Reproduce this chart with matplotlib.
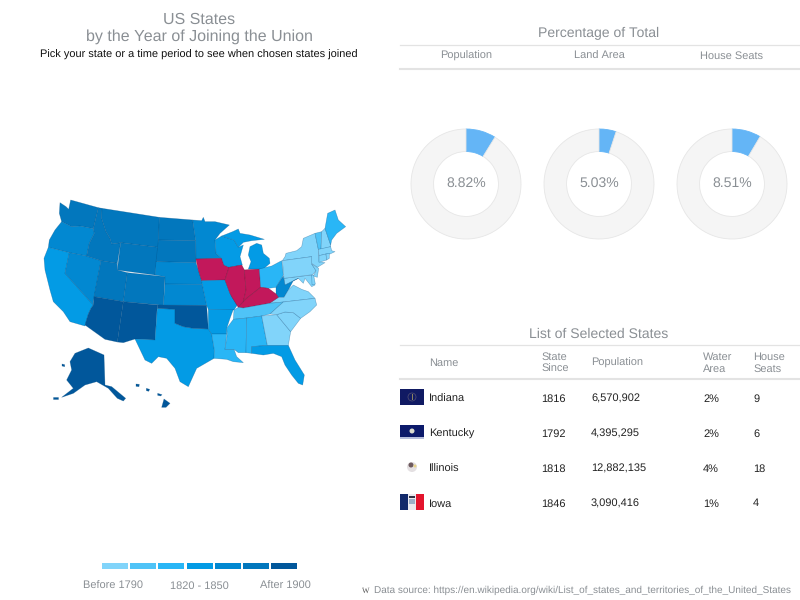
import numpy as np
import matplotlib

matplotlib.use("Agg")
import matplotlib.pyplot as plt
from matplotlib.colors import to_rgba
from matplotlib.patches import Circle, Polygon, Rectangle

plt.rcParams["font.family"] = ["Liberation Sans", "DejaVu Sans"]
plt.rcParams["text.hinting"] = "no_hinting"
plt.rcParams["text.hinting_factor"] = 1

# legend buckets
YEAR_BREAKS = [1790, 1800, 1820, 1850, 1870, 1900]
BUCKET_COLORS = ["#81d4fa", "#4fc3f7", "#29b6f6", "#039be5", "#0288d1", "#0277bd", "#01579b"]
LEGEND_LABELS = ["Before 1790", "1820 - 1850", "After 1900"]
SELECTED = ["IN", "KY", "IL", "IA"]

JOINED = {
    "DE": 1787, "PA": 1787, "NJ": 1787, "GA": 1788, "CT": 1788, "MA": 1788, "MD": 1788, "SC": 1788,
    "NH": 1788, "VA": 1788, "NY": 1788, "NC": 1789, "RI": 1790, "VT": 1791, "KY": 1792, "TN": 1796,
    "OH": 1803, "LA": 1812, "IN": 1816, "MS": 1817, "IL": 1818, "AL": 1819, "ME": 1820, "MO": 1821,
    "AR": 1836, "MI": 1837, "FL": 1845, "TX": 1845, "IA": 1846, "WI": 1848, "CA": 1850, "MN": 1858,
    "OR": 1859, "KS": 1861, "WV": 1863, "NV": 1864, "NE": 1867, "CO": 1876, "ND": 1889, "SD": 1889,
    "MT": 1889, "WA": 1889, "ID": 1890, "WY": 1890, "UT": 1896, "OK": 1907, "NM": 1912, "AZ": 1912,
    "AK": 1959, "HI": 1959,
}

# rough state outlines (map units, y down)
OUTLINES = {
    "WA": [[(90, 38), (108, 50), (116, 58), (122, 30), (205, 53), (190, 116), (150, 108), (125, 110), (105, 100), (95, 95), (88, 70)]],
    "OR": [[(95, 95), (105, 100), (125, 110), (150, 108), (190, 116), (193, 130), (178, 160), (170, 198), (118, 188), (55, 172), (58, 150), (75, 120)]],
    "CA": [[(55, 172), (118, 188), (105, 250), (190, 345), (183, 355), (175, 372), (165, 408), (120, 395), (100, 365), (70, 335), (60, 300), (45, 240), (42, 205)]],
    "NV": [[(118, 188), (170, 198), (213, 212), (190, 335), (190, 345), (105, 250)]],
    "ID": [[(205, 53), (216, 55), (215, 85), (228, 125), (240, 145), (245, 162), (272, 158), (262, 220), (213, 212), (170, 198), (178, 160), (193, 130), (190, 116)]],
    "MT": [[(216, 55), (388, 82), (385, 172), (272, 158), (245, 162), (240, 145), (228, 125), (215, 85)]],
    "WY": [[(272, 158), (385, 172), (375, 255), (262, 240)]],
    "UT": [[(213, 212), (262, 220), (262, 240), (292, 248), (280, 335), (192, 320)]],
    "CO": [[(292, 248), (405, 260), (400, 346), (280, 335)]],
    "AZ": [[(192, 320), (280, 335), (262, 456), (225, 448), (165, 405), (175, 372), (183, 355), (190, 345)]],
    "NM": [[(280, 335), (382, 345), (375, 450), (315, 447), (280, 458), (262, 456)]],
    "ND": [[(388, 82), (488, 90), (497, 152), (385, 150)]],
    "SD": [[(385, 150), (497, 152), (498, 218), (378, 215)]],
    "NE": [[(378, 215), (498, 218), (505, 240), (515, 272), (517, 283), (405, 282), (405, 260), (375, 255)]],
    "KS": [[(405, 282), (517, 283), (530, 346), (400, 346)]],
    "TX": [[(382, 355), (435, 358), (435, 400), (460, 410), (490, 415), (535, 417), (545, 432), (553, 480), (552, 505), (500, 535), (475, 590), (450, 575), (435, 535), (410, 505), (385, 500), (365, 520), (345, 510), (315, 447), (375, 450)]],
    "OK": [[(382, 345), (530, 346), (535, 417), (490, 415), (460, 410), (435, 400), (435, 358), (382, 355)]],
    "MN": [[(488, 90), (515, 92), (520, 82), (525, 95), (555, 95), (598, 105), (570, 130), (555, 150), (558, 190), (575, 205), (498, 207), (497, 152)]],
    "IA": [[(498, 207), (575, 205), (582, 225), (597, 232), (585, 270), (515, 272), (505, 240)]],
    "MO": [[(515, 272), (585, 270), (600, 310), (622, 345), (612, 360), (535, 358), (530, 346), (517, 283)]],
    "AR": [[(535, 358), (610, 358), (600, 385), (590, 415), (590, 432), (545, 432), (535, 417)]],
    "LA": [[(545, 432), (590, 432), (585, 478), (612, 478), (620, 500), (640, 518), (610, 515), (590, 508), (552, 505), (553, 480)]],
    "WI": [[(555, 150), (575, 138), (612, 150), (625, 172), (640, 165), (630, 200), (637, 225), (597, 232), (582, 225), (575, 205), (558, 190)]],
    "IL": [[(597, 232), (635, 225), (643, 240), (648, 300), (640, 335), (625, 352), (605, 320), (600, 310), (585, 270)]],
    "IN": [[(643, 240), (688, 237), (692, 292), (650, 325), (640, 335), (648, 300)]],
    "MI": [[(655, 195), (660, 170), (680, 160), (695, 165), (700, 190), (718, 205), (720, 220), (700, 237), (655, 237), (663, 215)],
           [(575, 138), (608, 125), (625, 117), (630, 130), (660, 135), (703, 148), (665, 152), (640, 157), (625, 172), (612, 150)]],
    "OH": [[(688, 237), (725, 228), (755, 212), (760, 255), (738, 292), (715, 295), (692, 292)]],
    "MD": [[(762, 265), (845, 255), (855, 285), (845, 290), (825, 265), (820, 280), (805, 265), (785, 275), (765, 285)]],
    "WV": [[(738, 292), (755, 265), (760, 258), (765, 285), (785, 275), (805, 265), (790, 272), (775, 300), (762, 322), (745, 322), (738, 312)]],
    "VA": [[(718, 340), (745, 322), (762, 322), (775, 300), (790, 285), (815, 298), (835, 305), (855, 325), (760, 336)]],
    "KY": [[(625, 352), (640, 335), (650, 325), (692, 292), (715, 295), (738, 312), (745, 322), (718, 340), (640, 354)]],
    "TN": [[(610, 388), (612, 360), (625, 352), (640, 354), (718, 340), (760, 336), (720, 372), (695, 378), (650, 384)]],
    "MS": [[(610, 388), (650, 384), (648, 488), (625, 488), (612, 478), (585, 478), (592, 432), (590, 415)]],
    "AL": [[(650, 384), (695, 378), (712, 466), (665, 470), (665, 490), (648, 488)]],
    "GA": [[(695, 378), (740, 374), (782, 425), (775, 466), (712, 466)]],
    "FL": [[(665, 470), (712, 466), (775, 466), (795, 510), (823, 555), (818, 585), (805, 580), (785, 555), (765, 525), (755, 500), (730, 490), (700, 495), (665, 490)]],
    "SC": [[(740, 374), (765, 366), (790, 368), (812, 385), (782, 425)]],
    "NC": [[(720, 372), (760, 336), (855, 325), (860, 345), (840, 365), (812, 385), (790, 368), (765, 366), (740, 374)]],
    "NY": [[(765, 200), (768, 190), (800, 182), (815, 170), (820, 145), (855, 130), (865, 178), (867, 215), (885, 218), (862, 232), (845, 220), (845, 200), (757, 212)]],
    "PA": [[(757, 212), (845, 200), (845, 222), (858, 242), (848, 254), (762, 265)]],
    "NJ": [[(845, 222), (866, 235), (862, 262), (850, 258), (858, 242)]],
    "DE": [[(845, 255), (851, 256), (856, 282), (846, 284)]],
    "VT": [[(855, 130), (875, 125), (873, 178), (865, 178)]],
    "NH": [[(875, 125), (885, 115), (902, 165), (902, 170), (873, 178)]],
    "ME": [[(885, 115), (893, 70), (915, 60), (925, 90), (947, 110), (920, 130), (905, 150), (902, 165)]],
    "MA": [[(865, 178), (902, 170), (905, 182), (915, 185), (900, 192), (888, 192), (867, 197)]],
    "CT": [[(867, 197), (888, 192), (890, 210), (867, 217)]],
    "RI": [[(888, 192), (898, 190), (898, 205), (890, 210)]],
    "AK": [[(135, 490), (175, 474), (222, 495), (225, 585), (245, 590), (287, 625), (280, 633), (262, 625), (235, 595), (200, 575), (165, 585), (130, 610), (95, 622), (130, 595), (110, 570), (125, 540), (120, 515)],
           [(70, 622), (85, 622), (85, 627), (70, 627)], [(96, 522), (104, 524), (104, 530), (96, 528)]],
    "HI": [[(402, 627), (420, 640), (408, 652), (395, 652)], [(383, 610), (396, 614), (392, 618), (383, 616)],
           [(349, 595), (359, 598), (356, 604), (349, 602)], [(318, 582), (328, 583), (327, 590), (318, 589)]],
}

# donuts
DONUT_LABELS = ["Population", "Land Area", "House Seats"]
DONUT_SHARE = [8.82, 5.03, 8.51]

# table
TABLE_NAMES = ["Indiana", "Kentucky", "Illinois", "Iowa"]
TABLE_SINCE = [1816, 1792, 1818, 1846]
TABLE_POP = ["6,570,902", "4,395,295", "12,882,135", "3,090,416"]
TABLE_WATER = ["2%", "2%", "4%", "1%"]
TABLE_SEATS = [9, 6, 18, 4]

GRAY = "#8a8f94"
LINE = "#e3e3e3"


def px_axes(fig, x0, y0, w, h):
    # axes placed by reference pixels, y measured from the top
    return fig.add_axes([x0 / 800, 1 - (y0 + h) / 600, w / 800, h / 600])


def draw_flag(ax, name, x, y):
    if name == "Indiana":
        ax.add_patch(Rectangle((x, y), 24, 16, color="#101a63", lw=0))
        ax.add_patch(Circle((x + 12, y + 8), 4, fc="none", ec="#4a4a70", lw=0.6))
        ax.add_patch(Rectangle((x + 11.5, y + 5), 1, 6, color="#8c8460", lw=0))
    elif name == "Kentucky":
        ax.add_patch(Rectangle((x, y + 1), 24, 13, color="#0c1a6b", lw=0))
        ax.add_patch(Rectangle((x, y + 13), 24, 1.5, color="#b6bedd", lw=0))
        ax.add_patch(Circle((x + 12, y + 7), 2.5, color="#dcdcd0", lw=0))
    elif name == "Illinois":
        ax.add_patch(Circle((x + 12, y + 8), 5, color="#e4e0e2", lw=0))
        ax.add_patch(Circle((x + 11, y + 6), 2.5, color="#6d5a5e", lw=0))
        ax.add_patch(Circle((x + 15, y + 7), 1.5, color="#e8d48a", lw=0))
    else:
        ax.add_patch(Rectangle((x, y), 8, 16, color="#12296b", lw=0))
        ax.add_patch(Rectangle((x + 8, y), 8, 16, color="#eceaf0", lw=0))
        ax.add_patch(Rectangle((x + 16, y), 8, 16, color="#e3142d", lw=0))
        ax.add_patch(Rectangle((x + 9, y + 2), 6, 2, color="#333344", lw=0))
        ax.add_patch(Rectangle((x + 9, y + 5), 6, 5, color="#9db0c8", lw=0))


def main():
    fig = plt.figure(figsize=(8, 6), dpi=100)
    bg = fig.add_axes([0, 0, 1, 1])
    bg.set_xlim(0, 800)
    bg.set_ylim(600, 0)
    bg.axis("off")

    bg.text(199, 24, "US States", ha="center", va="baseline", fontsize=11.5, color=GRAY)
    bg.text(199, 41, "by the Year of Joining the Union", ha="center", va="baseline", fontsize=11.5, color=GRAY)
    bg.text(199, 58, "Pick your state or a time period to see when chosen states joined",
            ha="center", va="baseline", fontsize=7.85, color="#111111")

    # map
    ax_map = px_axes(fig, 30, 190, 330, 230)
    ax_map.set_xlim(0, 990)
    ax_map.set_ylim(690, 0)
    ax_map.axis("off")
    for state, parts in OUTLINES.items():
        if state in SELECTED:
            fc, ec = "#c2185b", to_rgba("#7a0f3a", 0.7)
        else:
            fc = BUCKET_COLORS[np.digitize(JOINED[state], YEAR_BREAKS, right=True)]
            ec = to_rgba("#01497f", 0.4)
        for part in parts:
            ax_map.add_patch(Polygon(part, closed=True, facecolor=fc, edgecolor=ec, lw=0.4, joinstyle="round"))

    # legend
    for i, c in enumerate(BUCKET_COLORS):
        bg.add_patch(Rectangle((102 + i * 28.2, 563), 26, 5.5, color=c, lw=0))
    for x, t in zip([113, 199, 285], LEGEND_LABELS):
        bg.text(x, 589, t, ha="center", va="baseline", fontsize=8, color=GRAY)

    # right top block
    bg.text(599, 37.5, "Percentage of Total", ha="center", va="baseline", fontsize=10, color=GRAY)
    bg.plot([400, 799], [44.5, 44.5], color=LINE, lw=0.9)
    bg.plot([400, 799], [69, 69], color=LINE, lw=1.5)
    for cx, label, share in zip([466, 599, 732], DONUT_LABELS, DONUT_SHARE):
        bg.text(cx, 59, label, ha="center", va="baseline", fontsize=8, color=GRAY)
        ax = px_axes(fig, cx - 58, 184 - 58, 116, 116)
        ax.pie([share, 100 - share], startangle=90, counterclock=False, radius=1,
               colors=["#64b5f6", "#f5f5f5"],
               wedgeprops={"width": 0.41, "edgecolor": "#e6e6e6", "linewidth": 0.6})
        ax.patches[0].set_edgecolor("#64b5f6")
        ax.set_xlim(-58 / 55, 58 / 55)
        ax.set_ylim(-58 / 55, 58 / 55)
        ax.text(0, -0.06, f"{share:.2f}%", ha="center", va="baseline", fontsize=10.3, color=GRAY)

    # table
    bg.text(599, 337.5, "List of Selected States", ha="center", va="baseline", fontsize=10, color=GRAY)
    bg.plot([400, 799], [344.5, 344.5], color=LINE, lw=0.9)
    bg.plot([400, 799], [379, 379], color=LINE, lw=1.5)
    bg.text(429, 366, "Name", va="baseline", fontsize=8, color=GRAY)
    bg.text(541, 372, "State\nSince", va="baseline", fontsize=8, color=GRAY, linespacing=1.25)
    bg.text(591, 366, "Population", va="baseline", fontsize=8, color=GRAY)
    bg.text(703, 372, "Water\nArea", va="baseline", fontsize=8, color=GRAY, linespacing=1.25)
    bg.text(753, 372, "House\nSeats", va="baseline", fontsize=8, color=GRAY, linespacing=1.25)
    for y, name, since, pop, water, seats in zip([397, 432, 467, 502], TABLE_NAMES, TABLE_SINCE,
                                                 TABLE_POP, TABLE_WATER, TABLE_SEATS):
        draw_flag(bg, name, 400, y - 8)
        for x, val in zip([429, 541, 591, 703, 753], [name, since, pop, water, seats]):
            bg.text(x, y + 4.5, str(val), va="baseline", fontsize=8, color="#222222")

    # source
    bg.text(362, 593, "W", va="baseline", fontsize=6, color="#555555", family="Liberation Serif")
    bg.text(791, 592.5, "Data source: https://en.wikipedia.org/wiki/List_of_states_and_territories_of_the_United_States",
            ha="right", va="baseline", fontsize=7.2, color=GRAY)

    fig.savefig("out.png", dpi=100)
    plt.close(fig)


if __name__ == "__main__":
    main()
